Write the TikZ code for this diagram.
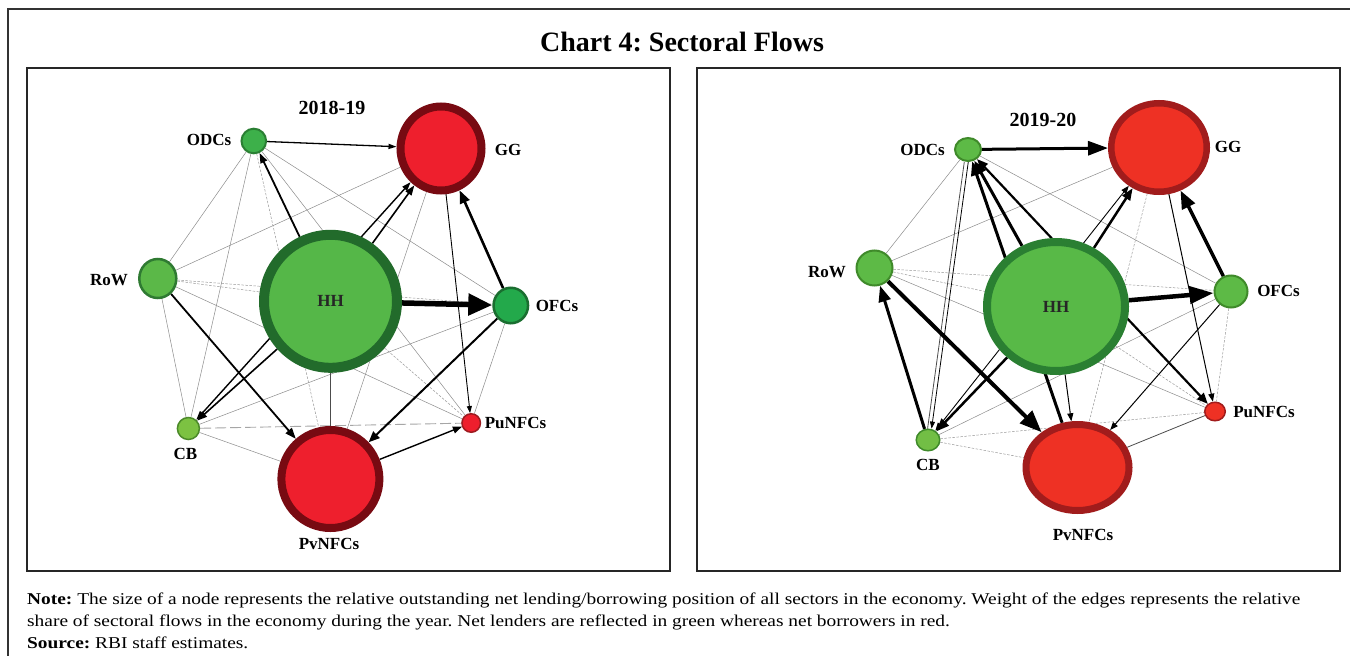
\documentclass[tikz,border=0pt]{standalone}
\usepackage{fontspec}
\setmainfont{Liberation Serif}
\newfontfamily\notefont{Liberation Serif}[FakeStretch=1.175]
\usetikzlibrary{shapes.geometric,arrows.meta,backgrounds}
\definecolor{hhL}{HTML}{55B748}
\definecolor{hhLb}{HTML}{226B2B}
\definecolor{gnA}{HTML}{3DB04A}
\definecolor{gnAb}{HTML}{2A7F33}
\definecolor{gnRow}{HTML}{5BB848}
\definecolor{gnRowb}{HTML}{2F7A32}
\definecolor{gnOfc}{HTML}{23A94B}
\definecolor{gnOfcb}{HTML}{1A6E30}
\definecolor{gnCb}{HTML}{7CC242}
\definecolor{gnCbb}{HTML}{4C8A2A}
\definecolor{rdL}{HTML}{EE1F2D}
\definecolor{rdLb}{HTML}{780A12}
\definecolor{rdLs}{HTML}{9E1B20}
\definecolor{hhR}{HTML}{58B947}
\definecolor{hhRb}{HTML}{2A7F32}
\definecolor{gnR}{HTML}{5DBA46}
\definecolor{gnRb}{HTML}{3F8A2A}
\definecolor{gnCbR}{HTML}{72BE45}
\definecolor{rdR}{HTML}{EE3124}
\definecolor{rdRb}{HTML}{A11C1C}
\frenchspacing
\begin{document}
\begin{tikzpicture}[x=1pt,y=-1pt,
  sec/.style={ellipse, inner sep=0pt},
  lbl/.style={inner sep=0pt, font=\bfseries\fontsize{17}{20}\selectfont},
  yr/.style={inner sep=0pt, font=\bfseries\fontsize{20}{24}\selectfont},
  frame/.style={draw=black!85, line width=1.2pt},
  note/.style={anchor=base west, inner sep=0pt, font=\notefont\fontsize{16.5}{19}\selectfont},
  gline/.style={draw=black!45, line width=0.5pt},
  gdash/.style={draw=black!40, line width=0.5pt, dash pattern=on 2.5pt off 1.5pt},
  gldash/.style={draw=black!35, line width=0.9pt, dash pattern=on 11pt off 4pt},
  dline/.style={draw=black!70, line width=0.8pt},
  arr/.style n args={3}{draw=black, line width=#1, -{Triangle[length=#2, width=#3]}},
  barr/.style n args={3}{draw=black, line width=#1, {Triangle[length=#2, width=#3]}-{Triangle[length=#2, width=#3]}}
]
\useasboundingbox (0,0) rectangle (1350,656);

% ---------- frames and texts ----------
\draw[draw=black!80, line width=1.3pt] (1350,9) -- (8,9) -- (8,656);
\node[inner sep=0pt, font=\bfseries\fontsize{28}{32}\selectfont] (title) at (682,42) {Chart 4: Sectoral Flows};
\draw[frame] (27,68) rectangle (670,571);
\draw[frame] (697,68) rectangle (1340,571);

\node[note] (n1) at (27,604)
  {\textbf{Note:} The size of a node represents the relative outstanding net lending/borrowing position of all sectors in the economy. Weight of the edges represents the relative};
\node[note] (n2) at (27,626)
  {share of sectoral flows in the economy during the year. Net lenders are reflected in green whereas net borrowers in red.};
\node[note] (n3) at (27,648)
  {\textbf{Source:} RBI staff estimates.};

% ---------- left panel nodes ----------
\node[sec, fill=hhL, draw=hhLb, line width=10pt, minimum width=133pt, minimum height=133pt, font=\bfseries\fontsize{17}{20}\selectfont, text=black!85] (lHH) at (330.5,301.3) {HH};
\node[sec, fill=rdL, draw=rdLb, line width=8pt, minimum width=81pt, minimum height=84pt] (lGG) at (441,148.5) {};
\node[sec, fill=rdL, draw=rdLb, line width=8pt, minimum width=98pt, minimum height=98pt] (lPvNFCs) at (330.4,479) {};
\node[sec, fill=gnA, draw=gnAb, line width=2pt, minimum width=24.6pt, minimum height=24.6pt] (lODCs) at (253.8,141) {};
\node[sec, fill=gnRow, draw=gnRowb, line width=2.5pt, minimum width=37pt, minimum height=39pt] (lRoW) at (157.8,278.5) {};
\node[sec, fill=gnOfc, draw=gnOfcb, line width=2.5pt, minimum width=34.5pt, minimum height=35.5pt] (lOFCs) at (510.8,305.5) {};
\node[sec, fill=gnCb, draw=gnCbb, line width=1.5pt, minimum width=22pt, minimum height=22pt] (lCB) at (188.4,428.5) {};
\node[sec, fill=rdL, draw=rdLs, line width=1.5pt, minimum width=18.5pt, minimum height=18.5pt] (lPuNFCs) at (471.2,423) {};

\node[yr] (lyear) at (332,108) {2018-19};
\node[lbl] (lODCsT) at (209,140) {ODCs};
\node[lbl] (lGGT) at (508,150) {GG};
\node[lbl] (lRoWT) at (109,280) {RoW};
\node[lbl] (lOFCsT) at (557,306) {OFCs};
\node[lbl] (lPuNFCsT) at (515.5,422.5) {PuNFCs};
\node[lbl] (lCBT) at (185.5,453.5) {CB};
\node[lbl] (lPvNFCsT) at (329,543.5) {PvNFCs};

% ---------- right panel nodes ----------
\node[sec, fill=hhR, draw=hhRb, line width=8pt, minimum width=138pt, minimum height=129pt, font=\bfseries\fontsize{17}{20}\selectfont, text=black!85] (rHH) at (1056,306.5) {HH};
\node[sec, fill=rdR, draw=rdRb, line width=6.5pt, minimum width=95.5pt, minimum height=88.5pt] (rGG) at (1159,147.5) {};
\node[sec, fill=rdR, draw=rdRb, line width=7pt, minimum width=103pt, minimum height=86pt] (rPvNFCs) at (1077.5,467.5) {};
\node[sec, fill=gnR, draw=gnRb, line width=2pt, minimum width=26pt, minimum height=23pt] (rODCs) at (968,149.5) {};
\node[sec, fill=gnR, draw=gnRb, line width=2pt, minimum width=36pt, minimum height=35pt] (rRoW) at (874.5,268) {};
\node[sec, fill=gnR, draw=gnRb, line width=2pt, minimum width=33pt, minimum height=32pt] (rOFCs) at (1231,291.5) {};
\node[sec, fill=rdR, draw=rdRb, line width=1.5pt, minimum width=20.5pt, minimum height=18.5pt] (rPuNFCs) at (1215,411.5) {};
\node[sec, fill=gnCbR, draw=gnRb, line width=1.5pt, minimum width=23.5pt, minimum height=21.5pt] (rCB) at (928,440) {};

\node[yr] (ryear) at (1043,120) {2019-20};
\node[lbl] (rODCsT) at (922.5,150) {ODCs};
\node[lbl] (rGGT) at (1228,147) {GG};
\node[lbl] (rRoWT) at (827,272) {RoW};
\node[lbl] (rOFCsT) at (1278.5,291) {OFCs};
\node[lbl] (rPuNFCsT) at (1264,411.5) {PuNFCs};
\node[lbl] (rCBT) at (928,465) {CB};
\node[lbl] (rPvNFCsT) at (1083,535) {PvNFCs};

% ---------- edges (behind nodes) ----------
\begin{pgfonlayer}{background}
\fill[white] (0,0) rectangle (1350,656);
% left thin
\draw[gline] (lODCs) -- (lRoW);
\draw[gline] (lODCs) -- (lOFCs);
\draw[gline] (lODCs) -- (lCB);
\draw[gline] (lODCs) -- (lPuNFCs);
\draw[gdash] (lODCs) -- (lPvNFCs);
\draw[gline] (lGG) -- (lRoW);
\draw[gline] (lGG) -- (lPvNFCs);
\draw[gdash] (lRoW) -- (lHH);
\draw[gdash] (lRoW) -- (lOFCs);
\draw[gline] (lRoW) -- (lCB);
\draw[gline] (lRoW) -- (lPuNFCs);
\draw[gdash] (lHH) -- (lPuNFCs);
\draw[gline] (lOFCs) -- (lCB);
\draw[gline] (lOFCs) -- (lPuNFCs);
\draw[gldash] (lCB) -- (lPuNFCs);
\draw[gline] (lCB) -- (lPvNFCs);
\draw[dline] (lHH) -- (lPvNFCs);
% left arrows
\draw[arr={5.5pt}{24pt}{21pt}] (lHH) -- (lOFCs);
\draw[arr={2.6pt}{13pt}{10pt}] (lOFCs) -- (lGG);
\draw[arr={2pt}{11pt}{9pt}] (lOFCs) -- (lPvNFCs);
\draw[arr={1.6pt}{10pt}{7pt}] (lHH) -- (lGG);
\draw[barr={1.4pt}{9pt}{6pt}] (lCB) -- (lGG);
\draw[arr={1.6pt}{10pt}{7pt}] (lHH) -- (lCB);
\draw[arr={1.8pt}{10pt}{7pt}] (lHH) -- (lODCs);
\draw[arr={1.3pt}{8pt}{5pt}] (lODCs) -- (lGG);
\draw[arr={1.8pt}{11pt}{8pt}] (lRoW) -- (lPvNFCs);
\draw[arr={1.4pt}{9pt}{7pt}] (lPvNFCs) -- (lPuNFCs);
\draw[arr={0.9pt}{7pt}{5pt}] (lGG) -- (lPuNFCs);

% right thin
\draw[gline] (rODCs) -- (rRoW);
\draw[gline] (rODCs) -- (rOFCs);
\draw[gline] (rGG) -- (rRoW);
\draw[gdash] (rGG) -- (rPvNFCs);
\draw[gdash] (rRoW) -- (rHH);
\draw[gdash] (rRoW) -- (rOFCs);
\draw[gline] (rRoW) -- (rPuNFCs);
\draw[gdash] (rHH) -- (rPuNFCs);
\draw[gdash] (rOFCs) -- (rPuNFCs);
\draw[gdash] (rCB) -- (rPuNFCs);
\draw[gdash] (rCB) -- (rPvNFCs);
\draw[gline] (rOFCs) -- (rCB);
\draw[dline] (rPvNFCs) -- (rPuNFCs);
\draw[dline, transform canvas={xshift=-2pt}] (rODCs) -- (rCB);
\draw[arr={0.8pt}{7pt}{5pt}, transform canvas={xshift=2pt}] (rODCs) -- (rCB);
% right arrows
\draw[arr={4.5pt}{24pt}{17pt}] (rHH) -- (rOFCs);
\draw[arr={3.5pt}{18pt}{14pt}] (rOFCs) -- (rGG);
\draw[arr={3pt}{20pt}{14pt}] (rODCs) -- (rGG);
\draw[arr={4pt}{22pt}{17pt}] (rRoW) -- (rPvNFCs);
\draw[arr={3pt}{16pt}{12pt}] (rCB) -- (rRoW);
\draw[arr={3pt}{14pt}{11pt}] (rHH) -- (rODCs);
\draw[arr={3pt}{14pt}{11pt}] (rPvNFCs) -- (rODCs);
\draw[barr={2.2pt}{11pt}{9pt}] (rPuNFCs) -- (rODCs);
\draw[arr={2.5pt}{12pt}{9pt}] (rHH) -- (rGG);
\draw[arr={2.5pt}{13pt}{10pt}] (rHH) -- (rCB);
\draw[barr={0.9pt}{8pt}{6pt}] (rGG) -- (rCB);
\draw[arr={1pt}{8pt}{6pt}] (rGG) -- (rPuNFCs);
\draw[arr={1pt}{8pt}{6pt}] (rHH) -- (rPvNFCs);
\draw[arr={1pt}{8pt}{6pt}] (rOFCs) -- (rPvNFCs);
\end{pgfonlayer}
\end{tikzpicture}
\end{document}
